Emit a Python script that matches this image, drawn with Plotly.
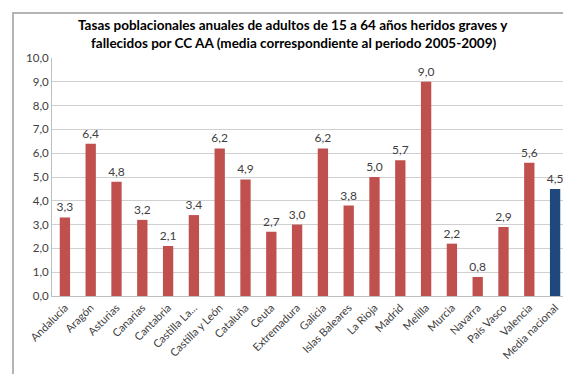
import plotly.graph_objects as go

categories = ["Andalucía", "Aragón", "Asturias", "Canarias", "Cantabria", "Castilla La...",
              "Castilla y León", "Cataluña", "Ceuta", "Extremadura", "Galicia", "Islas Baleares",
              "La Rioja", "Madrid", "Melilla", "Murcia", "Navarra", "País Vasco", "Valencia",
              "Media nacional"]
values = [3.3, 6.4, 4.8, 3.2, 2.1, 3.4, 6.2, 4.9, 2.7, 3.0, 6.2, 3.8, 5.0, 5.7, 9.0,
          2.2, 0.8, 2.9, 5.6, 4.5]
y_ticks = [0, 1, 2, 3, 4, 5, 6, 7, 8, 9, 10]
y_tick_labels = ["0,0", "1,0", "2,0", "3,0", "4,0", "5,0", "6,0", "7,0", "8,0", "9,0", "10,0"]
title_lines = ["Tasas poblacionales anuales de adultos de 15 a 64 años heridos graves y",
               "fallecidos por CC AA (media correspondiente al periodo 2005-2009)"]

RED = "#C0504D"
BLUE = "#1F497D"
colors = [BLUE if c == "Media nacional" else RED for c in categories]
labels = [f"{v:.1f}".replace(".", ",") for v in values]

FONT = "Lato, 'Open Sans', sans-serif"

fig = go.Figure(go.Bar(
    x=categories, y=values, marker=dict(color=colors, line=dict(width=0)),
    text=labels, textposition="outside", cliponaxis=False, constraintext="none",
    textfont=dict(family=FONT, size=12, color="#404040"),
))

fig.update_layout(
    width=571, height=374,
    margin=dict(l=44, r=11, t=50, b=86),
    paper_bgcolor="white", plot_bgcolor="white",
    bargap=0.6,
    showlegend=False,
    font=dict(family=FONT, color="#404040"),
)
# outer chart frame
fig.add_annotation(text="&nbsp;", xref="paper", yref="paper",
                   x=(284.5 - 44) / 516, y=(288 - 186) / 238,
                   xanchor="center", yanchor="middle",
                   width=558, height=361, borderpad=0,
                   bordercolor="#B4B4B4", borderwidth=2, showarrow=False,
                   font=dict(size=8))
for i, line in enumerate(title_lines):
    fig.add_annotation(text="<b>" + line + "</b>", xref="paper", yref="paper",
                       x=(285 - 44) / 516, xanchor="center",
                       y=1 + (50 - (17 + 18 * i)) / 238, yanchor="middle",
                       showarrow=False,
                       font=dict(family=FONT, size=13.5, color="#000000"))
fig.update_xaxes(
    tickangle=-45, tickfont=dict(family=FONT, size=11, color="#404040"),
    showline=True, linecolor="#BFBFBF", linewidth=1, ticks="", showgrid=False,
)
fig.update_yaxes(
    range=[0, 10], tickvals=y_ticks, ticktext=y_tick_labels,
    tickfont=dict(family=FONT, size=11.5, color="#404040"),
    showgrid=True, gridcolor="#D0D0D0", gridwidth=1,
    showline=True, linecolor="#BFBFBF", linewidth=1, ticks="", zeroline=False,
)

fig.write_html("out.html")
